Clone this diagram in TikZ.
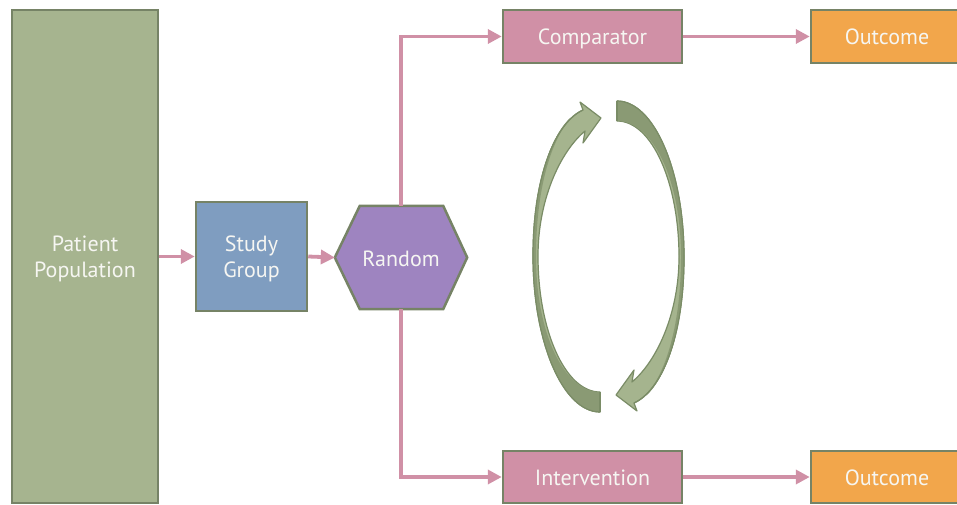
\documentclass[tikz,border=0pt]{standalone}
\usepackage{fontspec}
\setmainfont{PT Sans}
\usetikzlibrary{arrows.meta,calc}
\definecolor{popgreen}{HTML}{A6B48F}
\definecolor{edgegreen}{HTML}{768366}
\definecolor{studyblue}{HTML}{7F9DC0}
\definecolor{randpurple}{HTML}{9E84C0}
\definecolor{armpink}{HTML}{D090A6}
\definecolor{outorange}{HTML}{F2A64B}
\definecolor{cyclight}{HTML}{A5B48E}
\definecolor{cycdark}{HTML}{8A9A74}
\definecolor{cycedge}{HTML}{7A8C66}
\definecolor{labelwhite}{HTML}{F6F6F2}
\tikzset{
  labelfont/.style={font=\fontsize{22}{26}\selectfont, text height=19pt, text depth=2pt},
  twoline/.style={text height=44pt, text depth=2pt},
  box/.style={draw=edgegreen, line width=2.5pt, text=labelwhite, align=center,
    labelfont, inner sep=0pt},
  flow/.style={draw=armpink, line width=3.8pt,
    -{Triangle[length=14pt,width=14pt]}},
  cycarrow/.style={fill=cyclight, draw=cycedge, line width=1.2pt, line join=round},
  cycshade/.style={fill=cycdark}
}
\begin{document}
\begin{tikzpicture}[x=1pt,y=-1pt]
\useasboundingbox (0,0) rectangle (957,505);
\clip (0,0) rectangle (957,505);

% main boxes
\node[box, twoline, fill=popgreen, minimum width=146, minimum height=493] (pop) at (85,256.5) {Patient\\Population};
\node[box, twoline, fill=studyblue, minimum width=111, minimum height=109] (study) at (251.5,256.5) {Study\\Group};
\node[minimum width=132, minimum height=103, inner sep=0pt] (rand) at (401,257.5) {};
\draw[draw=edgegreen, line width=2.5pt, fill=randpurple, line join=miter]
  (rand.west) -- ($(rand.north west)+(25,0)$) -- ($(rand.north east)+(-24,0)$)
  -- (rand.east) -- ($(rand.south east)+(-24,0)$) -- ($(rand.south west)+(25,0)$) -- cycle;
\node[text=labelwhite, labelfont, inner sep=0pt] at (rand.center) {Random};

\node[box, fill=armpink, minimum width=179, minimum height=53] (comp) at (592.5,36.5) {Comparator};
\node[box, fill=outorange, minimum width=179, minimum height=53] (out1) at (900.5,36.5) {\hspace*{-27pt}Outcome};
\node[box, fill=armpink, minimum width=179, minimum height=52] (interv) at (592.5,477) {Intervention};
\node[box, fill=outorange, minimum width=179, minimum height=52] (out2) at (900.5,477) {\hspace*{-27pt}Outcome};

% connectors
\draw[flow] (pop.east) -- (study.west);
\draw[flow] (study.east) -- (rand.west);
\draw[flow] (rand.north) |- (comp.west);
\draw[flow] (rand.south) |- (interv.west);
\draw[flow] (comp.east) -- (out1.west);
\draw[flow] (interv.east) -- (out2.west);

% cycle of two curved arrows
\foreach \ang in {0,180}{
\begin{scope}[rotate around={\ang:(608.5,256.5)}]
  \draw[cycarrow]
    (600,412) .. controls (563,412) and (533,342) .. (533,256)
    .. controls (533,175) and (556,122) .. (583,110)
    -- (580,102) -- (601,118) -- (583,143) -- (585,131)
    .. controls (560,152) and (538,200) .. (538,256)
    .. controls (538,330) and (565,392) .. (600,392) -- cycle;
  \fill[cycshade]
    (600,412) .. controls (563,412) and (533,342) .. (533,256)
    .. controls (533,190) and (548,140) .. (570,118)
    .. controls (545,150) and (536,205) .. (536,256)
    .. controls (536,335) and (565,392) .. (600,392) -- cycle;
  \draw[draw=cycedge, line width=1.2pt, line join=round]
    (600,412) .. controls (563,412) and (533,342) .. (533,256)
    .. controls (533,175) and (556,122) .. (583,110);
  \draw[draw=cycedge, line width=1.2pt] (600,392) -- (600,412);
\end{scope}
}
\end{tikzpicture}
\end{document}
